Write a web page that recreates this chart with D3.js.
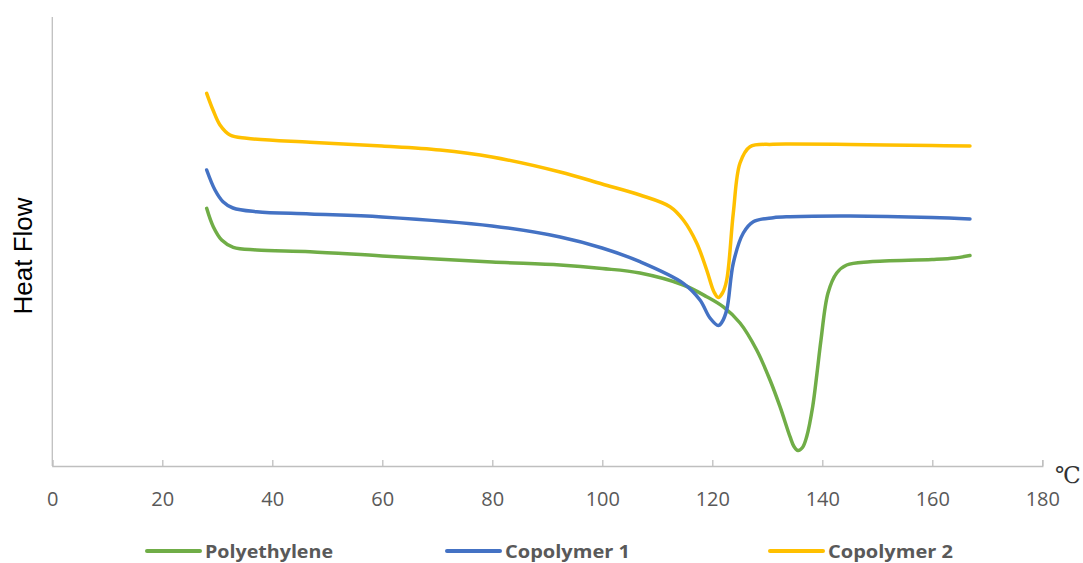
<!DOCTYPE html>
<html>
<head>
<meta charset="utf-8">
<script src="https://cdn.jsdelivr.net/npm/d3@7"></script>
<style>
  html, body { margin: 0; padding: 0; background: #fff; }
  svg { display: block; }
</style>
</head>
<body>
<svg id="chart" width="1083" height="563"></svg>
<script>
// ---- data (temperature °C, heat flow in arbitrary units) ----
const seriesNames = ["Polyethylene", "Copolymer 1", "Copolymer 2"];
const xTicks = [0, 20, 40, 60, 80, 100, 120, 140, 160, 180];

const polyethylene = [
  [28.07, 25.77], [29.27, 23.93], [30.8, 22.6], [32.91, 21.87], [37.16, 21.6],
  [46.85, 21.43], [59.95, 21.0], [79.95, 20.4], [92.33, 20.1], [99.96, 19.75],
  [106.85, 19.3], [114.73, 18.1], [118.98, 16.93], [121.95, 15.93], [125.04, 14.3],
  [128.07, 11.6], [130.49, 8.6], [132.31, 5.93], [134.13, 2.93], [134.85, 1.95],
  [135.58, 1.55], [136.4, 1.85], [137.16, 2.93], [138.25, 5.93], [139.04, 9.3],
  [139.76, 12.6], [141.04, 17.3], [142.62, 19.3], [144.44, 20.1], [148.67, 20.43],
  [159.95, 20.65], [164.13, 20.8], [166.85, 21.05]
];
const copolymer1 = [
  [28.07, 29.6], [29.58, 27.6], [31.04, 26.43], [32.85, 25.8], [37.16, 25.43],
  [46.85, 25.2], [59.95, 24.9], [79.95, 24.0], [92.33, 22.9], [99.96, 21.8],
  [106.85, 20.43], [114.73, 18.27], [117.76, 16.6], [119.58, 14.8], [121.09, 14.05],
  [121.76, 14.4], [122.62, 15.6], [123.82, 20.3], [125.64, 23.3], [127.45, 24.43],
  [131.09, 24.83], [134.13, 24.93], [145.04, 25.0], [159.95, 24.85], [166.85, 24.7]
];
const copolymer2 = [
  [28.07, 37.27], [29.22, 35.6], [30.49, 34.1], [32.31, 33.1], [35.35, 32.77],
  [46.85, 32.37], [59.95, 32.0], [70.49, 31.6], [79.95, 30.9], [92.33, 29.4],
  [99.96, 28.2], [106.85, 27.1], [112.31, 25.93], [114.73, 24.6], [117.16, 22.3],
  [118.98, 19.6], [120.31, 17.4], [121.09, 16.85], [121.85, 17.3], [122.62, 18.6],
  [123.82, 25.3], [125.04, 30.3], [126.85, 31.93], [131.04, 32.17], [134.13, 32.2],
  [145.04, 32.15], [159.95, 32.05], [166.85, 32.0]
];
const seriesData = [polyethylene, copolymer1, copolymer2];
const seriesColors = ["#70AD47", "#4472C4", "#FFC000"];

// ---- layout ----
const svg = d3.select("#chart");
const x = d3.scaleLinear().domain([0, 180]).range([52.3, 1042.3]);
const y = d3.scaleLinear().domain([0, 44.8]).range([466, 18]);

// y axis line (no ticks)
svg.append("line")
  .attr("x1", x(0)).attr("x2", x(0))
  .attr("y1", 17).attr("y2", y(0))
  .attr("stroke", "#BFBFBF").attr("stroke-width", 1.3);

// x axis
const xAxis = d3.axisBottom(x).tickValues(xTicks).tickSize(-6).tickPadding(0).tickFormat(d3.format("d"));
const gx = svg.append("g").attr("transform", `translate(0,${y(0)})`).call(xAxis);
gx.select(".domain").attr("stroke", "#BFBFBF").attr("stroke-width", 1.3);
gx.selectAll(".tick line").attr("stroke", "#BFBFBF").attr("stroke-width", 1.3);
gx.selectAll(".tick text")
  .attr("y", 40).attr("dy", null)
  .attr("fill", "#595959")
  .style("font-family", "'Open Sans', sans-serif")
  .style("font-size", "20px");

// unit label
svg.append("text")
  .attr("x", 1055).attr("y", 483)
  .attr("fill", "#333")
  .style("font-family", "'DejaVu Serif', 'Liberation Serif', serif")
  .style("font-size", "23px")
  .text("℃");

// y label
svg.append("text")
  .attr("transform", "translate(32,256) rotate(-90)")
  .attr("text-anchor", "middle")
  .attr("fill", "#000")
  .style("font-family", "'Liberation Sans', Arial, sans-serif")
  .style("font-size", "26px")
  .text("Heat Flow");

// lines
const line = d3.line().x(d => x(d[0])).y(d => y(d[1])).curve(d3.curveCatmullRom.alpha(0.5));
seriesData.forEach((s, i) => {
  svg.append("path")
    .datum(s)
    .attr("d", line)
    .attr("fill", "none")
    .attr("stroke", seriesColors[i])
    .attr("stroke-width", 3.5)
    .attr("stroke-linejoin", "round")
    .attr("stroke-linecap", "round");
});

// legend
const legendX = [147, 447, 770];
const legendW = [128, 125, 125];
seriesNames.forEach((name, i) => {
  svg.append("line")
    .attr("x1", legendX[i]).attr("x2", legendX[i] + 53)
    .attr("y1", 551).attr("y2", 551)
    .attr("stroke", seriesColors[i]).attr("stroke-width", 4)
    .attr("stroke-linecap", "round");
  svg.append("text")
    .attr("x", legendX[i] + 58).attr("y", 558)
    .attr("fill", "#595959")
    .attr("textLength", legendW[i])
    .attr("lengthAdjust", "spacingAndGlyphs")
    .style("font-family", "'Open Sans', sans-serif")
    .style("font-weight", "bold")
    .style("font-size", "18px")
    .text(name);
});
</script>
</body>
</html>
